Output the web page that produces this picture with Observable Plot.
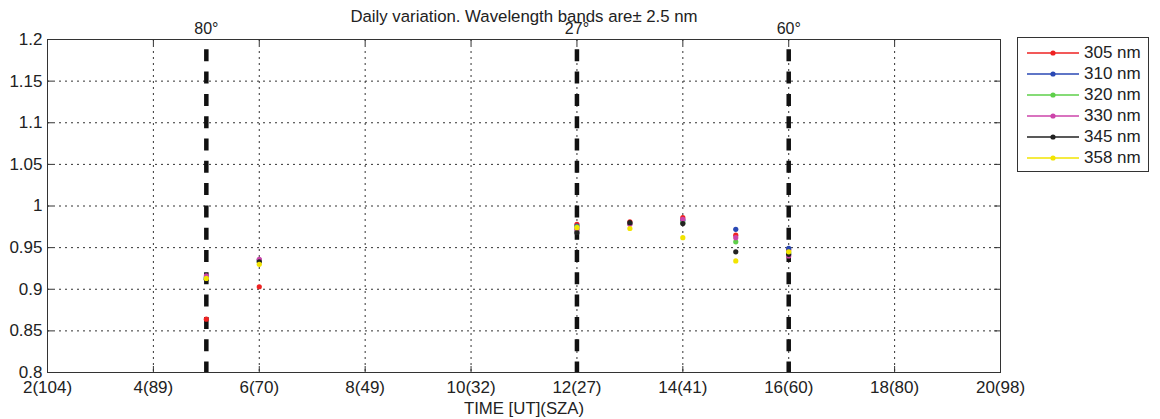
<!DOCTYPE html>
<html>
<head>
<meta charset="utf-8">
<script src="https://cdn.jsdelivr.net/npm/d3@7"></script>
<script src="https://cdn.jsdelivr.net/npm/@observablehq/plot@0.6"></script>
<style>
  body { margin: 0; background: white; }
  #wrap { position: relative; width: 1160px; height: 419px; font-family: "Liberation Sans", Arial, sans-serif; }
  #legend { position: absolute; left: 1017px; top: 37px; width: 130px; height: 133px; border: 1px solid #333; background: white; }
  .item { position: absolute; left: 0; height: 20px; display: flex; align-items: center; font-size: 17px; color: #222; }
  .item svg { margin-left: 9px; margin-right: 5px; }
</style>
</head>
<body>
<div id="wrap"><div id="legend"></div></div>
<script>
// ---- data ----
const times = [5, 6, 12, 13, 14, 15, 16];
const wavelengths = ["305 nm", "310 nm", "320 nm", "330 nm", "345 nm", "358 nm"];
const seriesColors = ["#ee2222", "#2a48b4", "#5ecf4a", "#cc44aa", "#222222", "#f2e400"];
const v305 = [0.864, 0.903, 0.978, 0.981, 0.986, 0.965, 0.947];
const v310 = [0.914, 0.935, 0.976, 0.979, 0.983, 0.972, 0.949];
const v320 = [0.913, 0.934, 0.975, 0.979, 0.980, 0.957, 0.944];
const v330 = [0.916, 0.936, 0.972, 0.978, 0.984, 0.962, 0.940];
const v345 = [0.912, 0.933, 0.968, 0.980, 0.979, 0.945, 0.942];
const v358 = [0.913, 0.930, 0.974, 0.973, 0.962, 0.934, 0.945];
const seriesValues = [v305, v310, v320, v330, v345, v358];

const xTickValues = [2, 4, 6, 8, 10, 12, 14, 16, 18, 20];
const xTickLabels = ["2(104)", "4(89)", "6(70)", "8(49)", "10(32)", "12(27)", "14(41)", "16(60)", "18(80)", "20(98)"];
const yTickValues = [0.8, 0.85, 0.9, 0.95, 1.0, 1.05, 1.1, 1.15, 1.2];
const yTickLabels = ["0.8", "0.85", "0.9", "0.95", "1", "1.05", "1.1", "1.15", "1.2"];

const szaMarkTimes = [5, 12, 16];
const szaMarkLabels = ["80°", "27°", "60°"];

const titleText = "Daily variation. Wavelength bands are\u00b1 2.5 nm";
const xLabelText = "TIME [UT](SZA)";

// ---- build table ----
const rows = [];
wavelengths.forEach((w, si) => {
  seriesValues[si].forEach((v, i) => rows.push({ band: w, t: times[i], value: v }));
});
const szaRows = szaMarkTimes.map((t, i) => ({ t, label: szaMarkLabels[i] }));

const W = 1160, H = 419, mL = 47, mR = 160, mT = 39, mB = 47;
const fw = W - mL - mR, fh = H - mT - mB;
const gridStyle = { stroke: "#333", strokeWidth: 1, strokeDasharray: "2,4" };

const chart = Plot.plot({
  width: W, height: H,
  marginLeft: mL, marginRight: mR, marginTop: mT, marginBottom: mB,
  style: { fontFamily: "'Liberation Sans', Arial, sans-serif", fontSize: "17px", color: "#222", background: "white", overflow: "visible" },
  x: { domain: [2, 20] },
  y: { domain: [0.8, 1.2] },
  color: { domain: wavelengths, range: seriesColors },
  marks: [
    Plot.ruleX(xTickValues.slice(1, -1), gridStyle),
    Plot.ruleY(yTickValues.slice(1, -1), gridStyle),
    // inward ticks
    Plot.ruleX(xTickValues, { stroke: "#333", insetTop: fh - 6 }),
    Plot.ruleX(xTickValues, { stroke: "#333", insetBottom: fh - 6 }),
    Plot.ruleY(yTickValues, { stroke: "#333", insetRight: fw - 6 }),
    Plot.ruleY(yTickValues, { stroke: "#333", insetLeft: fw - 6 }),
    // SZA markers
    Plot.ruleX(szaMarkTimes, { stroke: "#111", strokeWidth: 4.5, strokeDasharray: "12,10.3", strokeDashoffset: 12 }),
    Plot.frame({ stroke: "#333", strokeWidth: 1 }),
    Plot.dot(rows, { x: "t", y: "value", fill: "band", r: 2.6, stroke: null }),
    Plot.axisX({ ticks: xTickValues, tickFormat: d => xTickLabels[xTickValues.indexOf(d)], tickSize: 0, tickPadding: 8, fontSize: 17, label: null }),
    Plot.axisY({ ticks: yTickValues, tickFormat: d => yTickLabels[yTickValues.findIndex(v => Math.abs(v - d) < 1e-9)], tickSize: 0, tickPadding: 5, fontSize: 17, label: null }),
    Plot.text(szaRows, { x: "t", text: "label", frameAnchor: "top", lineAnchor: "middle", dy: -11, fontSize: 16, fill: "#222" }),
    Plot.text([titleText], { frameAnchor: "top", lineAnchor: "middle", dy: -23, fontSize: 16.8, fill: "#222" }),
    Plot.text([xLabelText], { frameAnchor: "bottom", lineAnchor: "middle", dy: 36, fontSize: 16.8, fill: "#222" })
  ]
});
document.getElementById("wrap").prepend(chart);

// ---- legend ----
const legend = document.getElementById("legend");
wavelengths.forEach((w, i) => {
  const div = document.createElement("div");
  div.className = "item";
  div.style.top = (5 + i * 21) + "px";
  div.innerHTML = `<svg width="52" height="10"><line x1="0" y1="5" x2="52" y2="5" stroke="${seriesColors[i]}" stroke-width="1.3"/><circle cx="26" cy="5" r="2.6" fill="${seriesColors[i]}"/></svg><span>${w}</span>`;
  legend.appendChild(div);
});
</script>
</body>
</html>
